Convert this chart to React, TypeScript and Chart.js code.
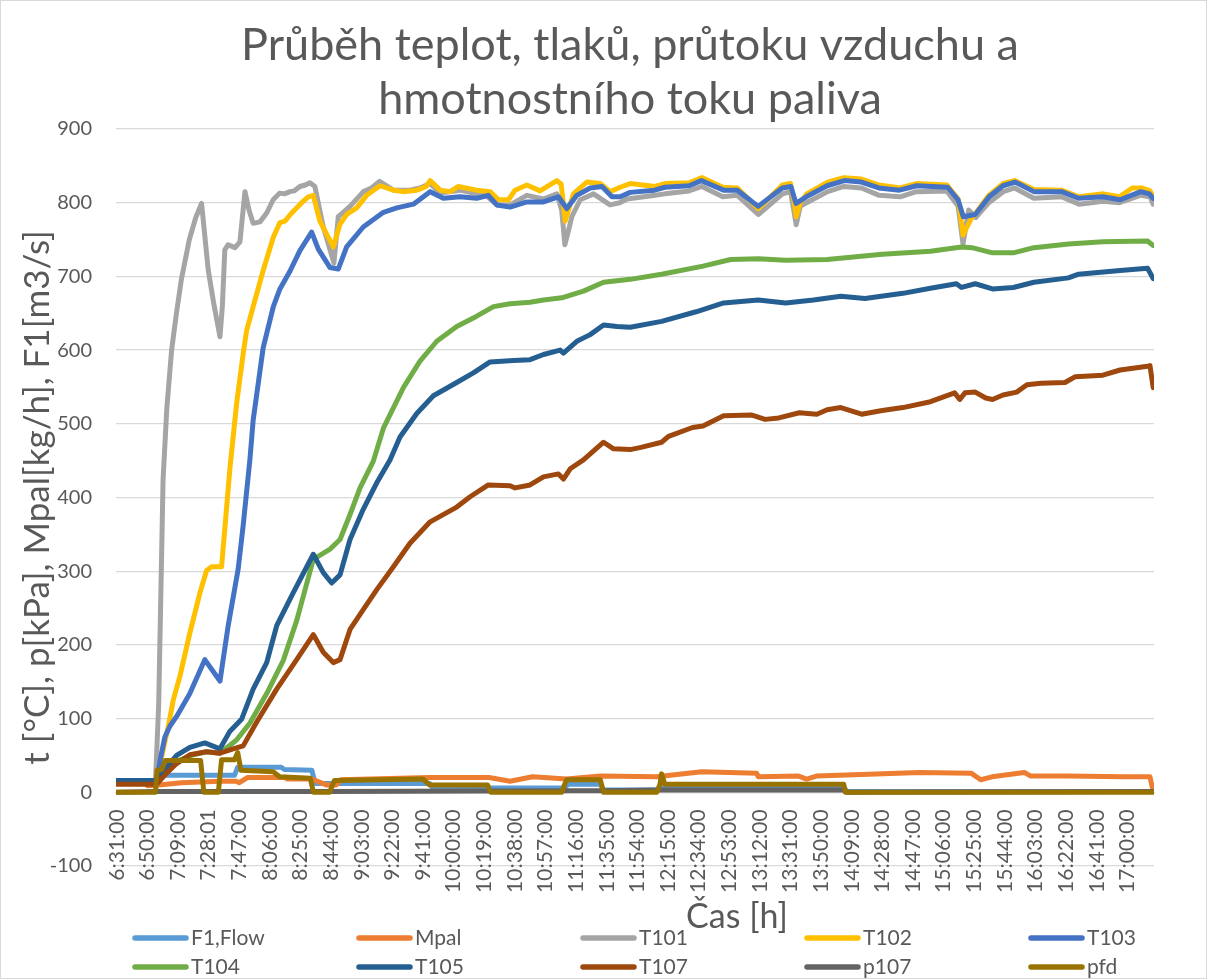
import React, { useEffect, useRef } from 'react';
import { Chart, registerables } from 'chart.js';

Chart.register(...registerables);

const FONT = 'Lato, "Noto Sans", sans-serif';
const TEXT = '#595959';

const titleLines = ['Průběh teplot, tlaků, průtoku vzduchu a', 'hmotnostního toku paliva'];
const yTitle = 't [°C], p[kPa], Mpal[kg/h], F1[m3/s]';
const xTitle = 'Čas [h]';

const tickLabels = ['6:31:00', '6:50:00', '7:09:00', '7:28:01', '7:47:00', '8:06:00', '8:25:00', '8:44:00', '9:03:00', '9:22:00', '9:41:00', '10:00:00', '10:19:00', '10:38:00', '10:57:00', '11:16:00', '11:35:00', '11:54:00', '12:15:00', '12:34:00', '12:53:00', '13:12:00', '13:31:00', '13:50:00', '14:09:00', '14:28:00', '14:47:00', '15:06:00', '15:25:00', '15:44:00', '16:03:00', '16:22:00', '16:41:00', '17:00:00'];
const samplesPerLabel = 19;
const sampleCount = 644;

// [sample index, value]
const F1: number[][] = [[0,15],[24,15],[27,23],[73,23],[75,34],[102,34],[104,31],[121,30],[123,12],[194,12],[196,6],[278,6],[280,11],[300,11],[302,3],[335,3],[337,7],[451,7],[453,1],[643,1]];
const Mpal: number[][] = [[0,12],[8,12],[9,16],[18,16],[19,9],[26,10],[40,13],[64,15],[74,15],[76,13],[81,20],[104,20],[106,18],[121,18],[130,10],[136,10],[139,17],[194,20],[231,20],[244,15],[258,21],[279,18],[300,22],[335,21],[363,28],[397,26],[398,21],[423,22],[428,18],[434,22],[462,24],[498,27],[530,26],[536,17],[543,21],[563,27],[567,22],[590,22],[625,21],[641,21],[643,1]];
const T101: number[][] = [[0,15],[24,15],[26,120],[28.7,424],[31,520],[34,600],[37,650],[40,695],[45,750],[49,780],[52.6,799],[56.7,709],[60,665],[64,618],[65.5,660],[67,736],[69,743],[73.3,739],[76.4,747],[79.5,815],[82,790],[84.6,772],[88.8,774],[93,786],[97,804],[101,813],[104,812],[107.4,815],[110,816],[113.6,822],[117,824],[119.8,827],[122.9,822],[128,768],[134.7,718],[137.4,781],[144.7,795],[153,815],[158,820],[163,829],[171.6,817],[181.9,817],[188,820],[194.4,826],[200.6,813],[213,817],[223.3,812],[229,810],[235.8,797],[244,797],[254.4,810],[264.7,805],[273,812],[276,790],[278,743],[280,760],[282.3,781],[287.5,804],[295.8,812],[306,797],[312,800],[316.5,805],[334,810],[340,812],[355,816],[363,822],[376,808],[385,810],[398,784],[413,812],[418,815],[420,790],[421.5,770],[424,795],[428,800],[441,815],[451,822],[462,820],[473,810],[486,808],[496,815],[515,816],[522,795],[525,744],[527,770],[528.5,790],[533,780],[541,800],[550,815],[557,820],[569,806],[586,808],[597,798],[612,802],[622,800],[635,810],[641,808],[643,798]];
const T102: number[][] = [[0,15],[24.8,15],[28,50],[31.9,89],[35,125],[39.1,157],[45.3,216],[51.5,270],[55.7,301],[58.8,306],[65,306],[67.1,360],[70.2,440],[74.3,527],[78.4,595],[80.5,626],[84.6,659],[90.8,708],[97.1,753],[101.2,773],[104.3,775],[108.5,786],[114.7,800],[118.8,808],[121.9,810],[126,775],[130,758],[134.3,740],[138.5,771],[142.6,784],[148.8,793],[155,810],[163.3,823],[171.6,817],[177.8,815],[186.1,817],[192,822],[194.4,830],[200.6,817],[206.8,815],[211.9,822],[223.3,817],[231.6,815],[236.8,804],[243,804],[247.1,817],[254.4,824],[262.6,816],[273,830],[275.7,825],[278.2,775],[283.3,812],[291.6,828],[299.9,826],[306.1,815],[312.3,821],[318.5,826],[334,822],[340,826],[355,827],[363,834],[376,821],[385,820],[398,792],[413,824],[418,826],[420,805],[421.5,781],[424,800],[428,812],[441,828],[451,834],[462,832],[473,824],[486,820],[496,826],[515,824],[522,805],[525,756],[527,765],[530,778],[533,786],[541,810],[550,826],[557,830],[569,818],[586,817],[597,808],[612,812],[622,808],[630,820],[636,820],[641,816],[643,808]];
const T103: number[][] = [[0,15],[24.8,15],[27,45],[29.8,75],[33,90],[37.1,103],[45.3,134],[54.6,180],[64,151],[69.1,226],[75.3,303],[78.4,362],[82.6,452],[84.6,505],[90.8,603],[97.1,659],[101.2,683],[107.4,707],[113.6,735],[120.9,760],[125,737],[132.3,712],[137.4,710],[142.6,740],[152.9,767],[165.4,787],[173.7,793],[184,798],[194.4,815],[202.6,806],[213,808],[223.3,806],[230.5,810],[235.8,797],[244,794],[254.4,801],[264.7,801],[274,808],[279.2,792],[285.4,810],[293.7,820],[301,822],[307.2,808],[312.3,808],[318.5,814],[333.7,817],[340.1,821],[355.1,823],[362.6,830],[376.5,817],[385,817],[397.9,795],[412.9,820],[418.2,822],[421.4,799],[427.8,808],[440.7,823],[451.4,830],[462,828],[472.8,820],[485.6,817],[496.3,823],[515.5,821],[521.9,804],[525.2,781],[532.6,784],[541.2,808],[549.8,823],[557.3,828],[569,815],[586.2,815],[596.7,806],[611.8,808],[622.5,804],[635.3,815],[640.6,812],[643,806]];
const T104: number[][] = [[0,13],[24.7,14],[30,25],[37.1,42],[47.4,51],[55.7,55],[64,53],[74.3,71],[82.6,94],[93,134],[103.3,179],[111.6,233],[121.9,316],[132.3,330],[138.5,343],[144.7,377],[150.9,413],[159.1,449],[165.4,494],[177.8,549],[188.1,585],[198.5,612],[210.9,632],[223.3,646],[233.7,659],[244,663],[256.4,665],[264.7,668],[276.1,671],[289.5,680],[302,692],[318.5,696],[338,703],[363.7,714],[380.8,723],[397.9,724],[415,722],[440.7,723],[474.9,730],[504.8,734],[524.1,740],[530.5,739],[543.3,732],[556.2,732],[569,739],[590.4,744],[611.8,747],[639.5,748],[643,742]];
const T105: number[][] = [[0,16],[24.7,16],[28.7,28],[37.1,50],[45.3,61],[54.6,67],[64,59],[70.2,83],[77.4,99],[84.6,140],[93,176],[99.2,226],[109.5,271],[121.9,323],[128.1,298],[133.3,284],[138.5,295],[144.7,343],[152.9,384],[161.3,420],[169.5,451],[175.7,482],[186.1,514],[196.4,538],[210.9,556],[221.2,569],[231.6,584],[246.1,586],[256.4,587],[264.7,594],[275.1,600],[277.1,596],[285.4,612],[293.7,621],[302,634],[310.3,632],[318.5,631],[338,639],[359.4,652],[376.5,664],[397.9,668],[415,664],[432.2,668],[449.2,673],[464.2,670],[487.7,677],[504.8,684],[520.9,690],[524.1,685],[532.6,690],[543.3,683],[556.2,685],[569,692],[590.4,698],[596.7,703],[622.5,708],[639.5,711],[643,697]];
const T107: number[][] = [[0,11],[24.8,11],[30.9,26],[37.1,39],[45.3,51],[55.7,55],[64,53],[72.2,59],[78.4,63],[86.7,95],[99.2,140],[111.6,180],[121.9,214],[128.1,190],[134.3,176],[138.5,180],[144.7,221],[152.9,248],[161.3,275],[171.6,306],[181.9,338],[194.4,367],[210.9,387],[219.2,401],[230.5,417],[244,416],[247.1,413],[256.4,417],[264.7,428],[274,432],[277.1,425],[281.3,439],[289.5,451],[302,475],[308.2,466],[318.5,465],[325.2,468],[338,475],[342.3,483],[357.2,495],[363.7,497],[376.5,511],[393.6,512],[402.2,506],[410.7,508],[423.5,515],[434.3,513],[440.7,519],[449.2,522],[462.1,513],[474.9,518],[487.7,522],[504.8,530],[519.8,542],[523,533],[526.2,542],[532.6,543],[539.1,535],[543.3,533],[549.8,539],[558.3,543],[564.7,553],[573.3,555],[588.3,556],[594.7,564],[611.8,566],[622.5,573],[639.5,578],[641,579],[643,549]];
const p107: number[][] = [[0,0],[25,1],[130,1],[279,2],[300,2],[336,3],[451,3],[453,0],[643,1]];
const pfd: number[][] = [[0,0],[24,0],[25,30],[28,31],[30,43],[52,43],[54,0],[63,0],[65,44],[73,44],[75,54],[77,30],[97,28],[101,21],[120,19],[122,0],[132,0],[135,16],[190,18],[194,10],[230,10],[232,0],[276,0],[279,17],[300,17],[302,0],[335,0],[337,11],[338,25],[340,11],[451,11],[452,0],[643,0]];

const seriesNames = ['F1,Flow', 'Mpal', 'T101', 'T102', 'T103', 'T104', 'T105', 'T107', 'p107', 'pfd'];
const seriesData = [F1, Mpal, T101, T102, T103, T104, T105, T107, p107, pfd];
const seriesColors = ['#5B9BD5', '#ED7D31', '#A5A5A5', '#FFC000', '#4472C4', '#70AD47', '#255E91', '#9E480E', '#636363', '#997300'];

const overlayPlugin = {
  id: 'excelOverlay',
  beforeDraw(chart: any) {
    const { ctx, width, height } = chart;
    ctx.save();
    ctx.fillStyle = '#ffffff';
    ctx.fillRect(0, 0, width, height);
    ctx.restore();
  },
  afterDraw(chart: any) {
    const { ctx, width, height } = chart;
    ctx.save();
    ctx.fillStyle = TEXT;
    ctx.textAlign = 'center';
    ctx.textBaseline = 'middle';
    ctx.font = `45px ${FONT}`;
    titleLines.forEach((line, i) => ctx.fillText(line, 630, 45 + i * 54));

    ctx.font = `34px ${FONT}`;
    ctx.fillText(xTitle, 737, 917);

    ctx.font = `21px ${FONT}`;
    ctx.textAlign = 'left';
    seriesNames.forEach((name, i) => {
      const col = i % 5;
      const row = Math.floor(i / 5);
      const x = 132 + col * 224;
      const y = 938 + row * 29;
      ctx.strokeStyle = seriesColors[i];
      ctx.lineWidth = 5.5;
      ctx.lineCap = 'round';
      ctx.beginPath();
      ctx.moveTo(x + 3, y);
      ctx.lineTo(x + 54, y);
      ctx.stroke();
      ctx.fillStyle = TEXT;
      ctx.fillText(name, x + 59, y);
    });

    ctx.strokeStyle = '#d9d9d9';
    ctx.lineWidth = 1;
    ctx.strokeRect(0.5, 0.5, width - 1, height - 1);
    ctx.restore();
  },
};

export default function App() {
  const canvasRef = useRef<HTMLCanvasElement | null>(null);

  useEffect(() => {
    const canvas = canvasRef.current;
    if (!canvas) return;
    const tickValues = tickLabels.map((_, i) => i * samplesPerLabel);
    const chart = new Chart(canvas, {
      type: 'line',
      data: {
        datasets: seriesNames.map((name, i) => ({
          label: name,
          data: seriesData[i].map(([x, y]) => ({ x, y })),
          borderColor: seriesColors[i],
          backgroundColor: seriesColors[i],
          borderWidth: 5,
          pointRadius: 0,
          tension: 0,
          fill: false,
          borderJoinStyle: 'round',
          borderCapStyle: 'round',
          order: seriesNames.length - i,
        })),
      },
      options: {
        animation: false,
        responsive: false,
        events: [],
        layout: { padding: { left: 0, right: 53, top: 129, bottom: 113 } },
        plugins: {
          legend: { display: false },
          tooltip: { enabled: false },
          title: { display: false },
        },
        scales: {
          x: {
            type: 'linear',
            min: -0.5,
            max: sampleCount - 0.5,
            position: { y: 0 },
            grid: { display: false },
            border: { display: true, color: '#d9d9d9', width: 1.3 },
            afterBuildTicks: (scale: any) => {
              scale.ticks = tickValues.map((v) => ({ value: v }));
            },
            ticks: {
              autoSkip: false,
              minRotation: 90,
              maxRotation: 90,
              padding: 9,
              color: TEXT,
              font: { family: FONT, size: 21 },
              callback: (_v: any, i: number) => tickLabels[i] ?? '',
            },
          },
          y: {
            min: -100,
            max: 900,
            afterFit: (scale: any) => {
              scale.width = 116;
            },
            ticks: { stepSize: 100, padding: 24, color: TEXT, font: { family: FONT, size: 20 } },
            grid: { color: '#d9d9d9', lineWidth: 1.3, drawTicks: false },
            border: { display: false },
            title: {
              display: true,
              text: yTitle,
              color: TEXT,
              font: { family: FONT, size: 35, weight: 'normal' },
              padding: { top: 17, bottom: 0 },
            },
          },
        },
      },
      plugins: [overlayPlugin],
    } as any);
    return () => chart.destroy();
  }, []);

  return (
    <div style={{ position: 'fixed', left: 0, top: 0, width: 1207, height: 979, background: '#fff' }}>
      <canvas ref={canvasRef} width={1207} height={979} style={{ width: 1207, height: 979, display: 'block' }} />
    </div>
  );
}
